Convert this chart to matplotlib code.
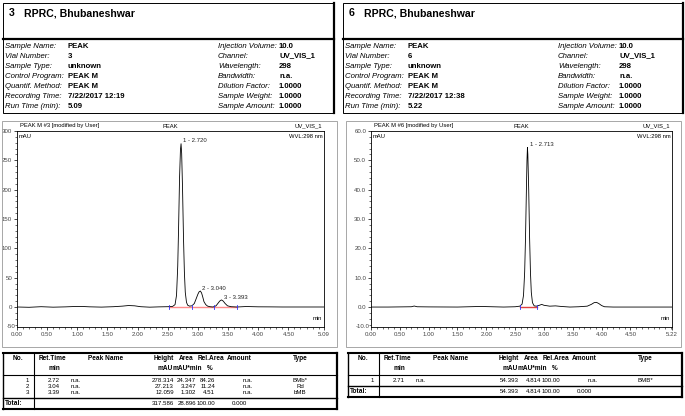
import matplotlib
matplotlib.use("Agg")
import matplotlib.pyplot as plt
from matplotlib.lines import Line2D
from matplotlib.patches import Rectangle
from matplotlib.ticker import MultipleLocator, FixedLocator

plt.rcParams['font.family'] = ['Liberation Sans', 'DejaVu Sans']

# ---------------- data ----------------
site = "RPRC, Bhubaneshwar"
info_left_labels = ["Sample Name:", "Vial Number:", "Sample Type:", "Control Program:",
                    "Quantif. Method:", "Recording Time:", "Run Time (min):"]
info_right_labels = ["Injection Volume:", "Channel:", "Wavelength:", "Bandwidth:",
                     "Dilution Factor:", "Sample Weight:", "Sample Amount:"]
s3_left_values = ["PEAK", "3", "unknown", "PEAK M", "PEAK M", "7/22/2017 12:19", "5.09"]
s6_left_values = ["PEAK", "6", "unknown", "PEAK M", "PEAK M", "7/22/2017 12:38", "5.22"]
right_values = ["10.0", "UV_VIS_1", "298", "n.a.", "1.0000", "1.0000", "1.0000"]

# chromatogram traces (time in min, signal in mAU)
s3_time = [0.00, 0.20, 0.40, 0.60, 0.80, 1.00, 1.10, 1.20, 1.40, 1.60, 1.75, 1.85, 1.95,
           2.05, 2.20, 2.35, 2.50, 2.58, 2.62, 2.645, 2.665, 2.68, 2.695, 2.71, 2.72,
           2.73, 2.745, 2.76, 2.775, 2.79, 2.81, 2.83, 2.86, 2.90, 2.94, 2.97, 3.00,
           3.02, 3.04, 3.06, 3.08, 3.10, 3.13, 3.16, 3.20, 3.25, 3.30, 3.33, 3.36,
           3.39, 3.42, 3.45, 3.49, 3.55, 3.65, 3.80, 4.00, 4.20, 4.40, 4.60, 4.80, 5.09]
s3_signal = [0.0, -0.5, 0.5, -0.3, 0.2, 1.0, 0.8, 0.3, -0.2, 0.5, 1.5, 2.5, 2.0,
             0.5, -0.3, 0.2, 0.5, 1.0, 4.0, 20.0, 70.0, 140.0, 220.0, 268.0, 278.3,
             262.0, 200.0, 120.0, 60.0, 25.0, 8.0, 3.0, 1.5, 2.0, 6.0, 14.0, 22.0,
             26.0, 27.2, 24.0, 17.0, 9.0, 4.0, 1.5, 0.5, 0.0, 2.0, 6.0, 10.0,
             12.1, 10.0, 6.0, 2.0, 0.5, 0.0, 0.8, 0.3, 0.2, 0.0, 0.0, 0.0, 0.0]
s6_time = [0.00, 0.30, 0.70, 0.75, 0.80, 1.00, 1.50, 1.90, 2.10, 2.30, 2.50, 2.58, 2.62,
           2.645, 2.665, 2.68, 2.695, 2.705, 2.713, 2.72, 2.735, 2.75, 2.765, 2.78, 2.80,
           2.83, 2.87, 2.92, 2.96, 3.00, 3.10, 3.20, 3.30, 3.45, 3.60, 3.75, 3.82, 3.87,
           3.91, 3.95, 4.00, 4.05, 4.20, 4.50, 4.80, 5.22]
s6_signal = [0.0, 0.0, 0.1, 0.35, 0.1, 0.05, 0.0, 0.2, 0.1, 0.0, 0.1, 0.3, 1.0,
             4.0, 12.0, 24.0, 40.0, 50.0, 54.4, 52.0, 40.0, 24.0, 12.0, 5.0, 1.5,
             0.4, 0.3, 0.6, 0.9, 0.6, 0.3, 0.4, 0.2, 0.0, 0.1, 0.3, 0.9, 1.5,
             1.6, 1.2, 0.5, 0.1, 0.0, 0.0, 0.0, 0.0]

s3_peak_labels = ["1 - 2.720", "2 - 3.040", "3 - 3.393"]
s3_peak_times = [2.720, 3.040, 3.393]
s3_peak_heights = [278.314, 27.213, 12.059]
s3_delims = [2.52, 2.90, 3.26, 3.65]
s6_peak_labels = ["1 - 2.713"]
s6_peak_times = [2.713]
s6_peak_heights = [54.393]
s6_delims = [2.58, 2.88]

# peak tables
s3_no = ["1", "2", "3"]
s3_ret = ["2.72", "3.04", "3.39"]
s3_name = ["n.a.", "n.a.", "n.a."]
s3_height = ["278.314", "27.213", "12.059"]
s3_area = ["24.347", "3.247", "1.302"]
s3_rel = ["84.26", "11.24", "4.51"]
s3_amount = ["n.a.", "n.a.", "n.a."]
s3_type = ["BMb*", "Rd", "bMB"]
s3_total = ["317.586", "28.896", "100.00", "0.000"]

s6_no = ["1"]
s6_ret = ["2.71"]
s6_name = ["n.a."]
s6_height = ["54.393"]
s6_area = ["4.814"]
s6_rel = ["100.00"]
s6_amount = ["n.a."]
s6_type = ["BMB*"]
s6_total = ["54.393", "4.814", "100.00", "0.000"]

# ---------------- helpers ----------------
W, H = 685, 416
fig = plt.figure(figsize=(W / 100, H / 100), dpi=100)


def fx(x):
    return x / W


def fy(y):
    return 1 - y / H


def txt(x, y, s, size=5.5, ha='left', weight='normal', style='normal', color='black'):
    fig.text(fx(x), fy(y), s, fontsize=size, ha=ha, va='center', fontweight=weight,
             fontstyle=style, color=color)


def hline(x0, x1, y, lw=0.6, color='black'):
    fig.add_artist(Line2D([fx(x0), fx(x1)], [fy(y), fy(y)], lw=lw, color=color,
                          transform=fig.transFigure))


def vline(x, y0, y1, lw=0.6, color='black'):
    fig.add_artist(Line2D([fx(x), fx(x)], [fy(y0), fy(y1)], lw=lw, color=color,
                          transform=fig.transFigure))


def rect(x0, y0, x1, y1, lw=0.6, color='black'):
    fig.add_artist(Rectangle((fx(x0), fy(y1)), fx(x1) - fx(x0), fy(y0) - fy(y1),
                             fill=False, lw=lw, edgecolor=color, transform=fig.transFigure))


def header_block(x0, x1, num, left_vals):
    rect(x0, 3, x1, 113, lw=0.7)
    vline(x1, 3, 113, lw=1.6)
    hline(x0, x1, 39, lw=1.6)
    txt(x0 + 6, 13, num, size=7.6, weight='bold')
    txt(x0 + 21, 13, site, size=7.6, weight='bold')
    for i in range(7):
        y = 46 + i * 10
        txt(x0 + 2, y, info_left_labels[i], size=5.6, style='italic')
        txt(x0 + 65, y, left_vals[i], size=5.6, weight='bold')
        txt(x0 + 215, y, info_right_labels[i], size=5.6, style='italic')
        txt(x0 + 276, y, right_values[i], size=5.6, weight='bold')


def chrom(x0, ax_l, ax_r, t, s, xmax, ymax, ybot, ystep, yminor, ylabels_fmt, bot_label,
          sample_tag, peak_t, peak_h, peak_lbl, delims, base_color, base_range):
    rect(x0, 121, x0 + 335, 347, lw=0.6, color='#999999')
    top_px, bot_px = 131, 327
    ax = fig.add_axes([fx(ax_l), fy(bot_px), fx(ax_r) - fx(ax_l), fy(top_px) - fy(bot_px)])
    ax.plot(t, s, color='black', lw=0.6)
    ax.set_xlim(0, xmax)
    ax.set_ylim(ybot, ymax)
    for sp in ax.spines.values():
        sp.set_linewidth(0.6)
    ax.xaxis.set_major_locator(FixedLocator([0, 0.5, 1.0, 1.5, 2.0, 2.5, 3.0, 3.5, 4.0, 4.5, xmax]))
    ax.xaxis.set_minor_locator(MultipleLocator(0.1))
    ax.set_xticklabels(["0.00", "0.50", "1.00", "1.50", "2.00", "2.50", "3.00",
                        "3.50", "4.00", "4.50", f"{xmax:.2f}"])
    yt = [ystep * k for k in range(int(round(ymax / ystep)) + 1)]
    ax.yaxis.set_major_locator(FixedLocator(yt))
    ax.set_yticklabels([ylabels_fmt.format(v) for v in yt])
    ax.yaxis.set_minor_locator(MultipleLocator(yminor))
    ax.tick_params(axis='both', which='major', length=2.5, width=0.5, labelsize=4.4,
                   pad=1, colors='black', labelcolor='#444444')
    ax.tick_params(axis='both', which='minor', length=1.5, width=0.4)
    ax.text(-0.005, ybot, bot_label, transform=ax.get_yaxis_transform(), ha='right',
            va='center', fontsize=4.4, color='#444444')
    # baseline and delimiters
    ax.plot(base_range, [0, 0], color=base_color, lw=1.0, zorder=1)
    for d in delims:
        ax.plot([d, d], [-ymax * 0.012, ymax * 0.012], color='#3333ff', lw=0.6)
    for pt, ph, pl in zip(peak_t, peak_h, peak_lbl):
        ax.annotate(pl, (pt, ph), xytext=(1.5, 2), textcoords='offset points',
                    fontsize=4.3, ha='left', va='center', color='#222222')
    ax.text(0.004, 0.985, "mAU", transform=ax.transAxes, fontsize=4.2, va='top')
    ax.text(0.996, 0.985, "WVL:298 nm", transform=ax.transAxes, fontsize=4.2, va='top', ha='right')
    ax.text(0.995, 0.03, "min", transform=ax.transAxes, fontsize=4.2, va='bottom', ha='right')
    txt(ax_l + 3, 126, sample_tag, size=4.2)
    txt((ax_l + ax_r) / 2, 126, "PEAK", size=4.2, ha='center')
    txt(ax_r - 2, 126, "UV_VIS_1", size=4.2, ha='right')
    return ax


def peak_table(x0, no, ret, name, height, area, rel, amount, typ, total):
    top = 353
    n = len(no)
    row_y = [381 + 6.0 * i for i in range(n)]
    sep = row_y[-1] + 5
    tot_y = sep + 5.5
    bot = tot_y + 5.5
    x1 = x0 + 334
    hline(x0, x1, top, lw=1.5)
    hline(x0, x1, bot, lw=1.5)
    vline(x0, top, bot, lw=1.0)
    vline(x1, top, bot, lw=1.6)
    hline(x0, x1, 375, lw=0.8)
    hline(x0, x1, sep, lw=1.0)
    vline(x0 + 31, top, bot, lw=0.8)
    hs = 4.7
    txt(x0 + 15, 359, "No.", size=hs, ha='center', weight='bold')
    txt(x0 + 49, 359, "Ret.Time", size=hs, ha='center', weight='bold')
    txt(x0 + 51, 368, "min", size=hs, ha='center', weight='bold')
    txt(x0 + 103, 359, "Peak Name", size=hs, ha='center', weight='bold')
    txt(x0 + 161, 359, "Height", size=hs, ha='center', weight='bold')
    txt(x0 + 162, 368, "mAU", size=hs, ha='center', weight='bold')
    txt(x0 + 183, 359, "Area", size=hs, ha='center', weight='bold')
    txt(x0 + 184, 368, "mAU*min", size=hs, ha='center', weight='bold')
    txt(x0 + 208, 359, "Rel.Area", size=hs, ha='center', weight='bold')
    txt(x0 + 207, 368, "%", size=hs, ha='center', weight='bold')
    txt(x0 + 236, 359, "Amount", size=hs, ha='center', weight='bold')
    txt(x0 + 297, 359, "Type", size=hs, ha='center', weight='bold')
    ds = 4.4
    for i in range(n):
        y = row_y[i]
        txt(x0 + 26, y, no[i], size=ds, ha='right')
        txt(x0 + 51, y, ret[i], size=ds, ha='center')
        txt(x0 + 68, y, name[i], size=ds)
        txt(x0 + 171, y, height[i], size=ds, ha='right')
        txt(x0 + 193, y, area[i], size=ds, ha='right')
        txt(x0 + 212, y, rel[i], size=ds, ha='right')
        txt(x0 + 250, y, amount[i], size=ds, ha='right')
        txt(x0 + 297, y, typ[i], size=ds, ha='center')
    txt(x0 + 2, tot_y, "Total:", size=hs, weight='bold')
    txt(x0 + 171, tot_y, total[0], size=ds, ha='right')
    txt(x0 + 193, tot_y, total[1], size=ds, ha='right')
    txt(x0 + 212, tot_y, total[2], size=ds, ha='right')
    txt(x0 + 236, tot_y, total[3], size=ds, ha='center')


# ---------------- draw ----------------
header_block(3, 334, "3", s3_left_values)
header_block(343, 683, "6", s6_left_values)

chrom(2, 17, 324, s3_time, s3_signal, 5.09, 300, -34.1, 50, 10, "{:.0f}", "-50",
      "PEAK M #3 [modified by User]", s3_peak_times, s3_peak_heights, s3_peak_labels,
      s3_delims, '#ff8a8a', [2.52, 3.65])
chrom(346, 371, 672, s6_time, s6_signal, 5.22, 60, -6.8, 10, 2, "{:.1f}", "-10.0",
      "PEAK M #6 [modified by User]", s6_peak_times, s6_peak_heights, s6_peak_labels,
      s6_delims, '#e04040', [2.58, 2.88])

peak_table(3, s3_no, s3_ret, s3_name, s3_height, s3_area, s3_rel, s3_amount, s3_type, s3_total)
peak_table(348, s6_no, s6_ret, s6_name, s6_height, s6_area, s6_rel, s6_amount, s6_type, s6_total)

fig.savefig("out.png", dpi=100)
